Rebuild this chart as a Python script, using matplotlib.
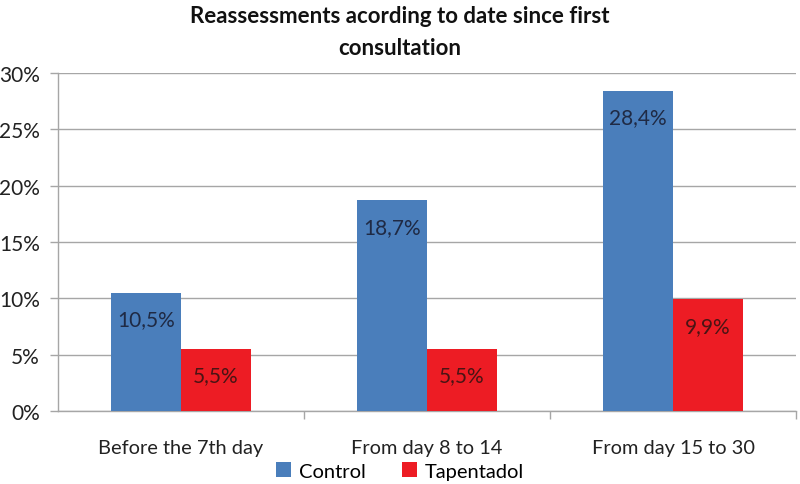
import matplotlib
matplotlib.use("Agg")
import matplotlib.pyplot as plt
import numpy as np
from matplotlib.ticker import FixedLocator

categories = ["Before the 7th day", "From day 8 to 14", "From day 15 to 30"]
control = [10.5, 18.7, 28.4]
tapentadol = [5.5, 5.5, 9.9]
control_labels = ["10,5%", "18,7%", "28,4%"]
tapentadol_labels = ["5,5%", "5,5%", "9,9%"]
yticks = [0, 5, 10, 15, 20, 25, 30]
ytick_labels = ["0%", "5%", "10%", "15%", "20%", "25%", "30%"]

plt.rcParams['font.family'] = ['Lato', 'DejaVu Sans']

fig = plt.figure(figsize=(8, 4.85), dpi=100)
ax = fig.add_axes([0.0725, 0.1505, 0.9225, 0.6969])

blue = "#4a7ebb"
red = "#ed1c24"
grid_c = "#a6a6a6"

x = np.arange(len(categories))
w = 0.285
b1 = ax.bar(x - w/2, control, w, color=blue, label="Control", zorder=3)
b2 = ax.bar(x + w/2, tapentadol, w, color=red, label="Tapentadol", zorder=3)

for rect, lab in zip(b1, control_labels):
    ax.annotate(lab, (rect.get_x() + rect.get_width()/2, rect.get_height()),
                xytext=(0, -19), textcoords="offset points", ha="center", va="center",
                fontsize=15, color="#1f2a44", zorder=4)
for rect, lab in zip(b2, tapentadol_labels):
    ax.annotate(lab, (rect.get_x() + rect.get_width()/2, rect.get_height()),
                xytext=(0, -19), textcoords="offset points", ha="center", va="center",
                fontsize=15, color="#4a1414", zorder=4)

ax.set_xlim(-0.5, len(categories) - 0.5)
ax.set_ylim(0, 30)
ax.set_yticks(yticks)
ax.set_yticklabels(ytick_labels, fontsize=15, color="#222222")
ax.yaxis.grid(True, color=grid_c, linewidth=1, zorder=0)
ax.set_axisbelow(True)

ax.set_xticks(x)
ax.set_xticklabels(categories, fontsize=14.4, color="#222222")
ax.tick_params(axis='x', which='major', length=0, pad=20)
ax.xaxis.set_minor_locator(FixedLocator([0.5, 1.5, 2.5]))
ax.tick_params(axis='x', which='minor', length=6, color=grid_c, width=1)
ax.tick_params(axis='y', length=6, color=grid_c, width=1, pad=7)

for s in ["top", "right"]:
    ax.spines[s].set_visible(False)
for s in ["left", "bottom"]:
    ax.spines[s].set_color(grid_c)
    ax.spines[s].set_linewidth(1)

fig.text(0.5, 0.988, "Reassessments acording to date since first\nconsultation",
         ha="center", va="top", fontsize=16, fontweight="bold", linespacing=1.65,
         color="#111111")

fig.legend(handles=[b1, b2], labels=["Control", "Tapentadol"], loc="center",
           bbox_to_anchor=(0.5, 0.027), ncol=2, frameon=False, fontsize=14.5,
           handlelength=0.75, handleheight=0.75, handletextpad=0.4, columnspacing=1.8,
           borderpad=0)

fig.savefig("out.png", dpi=100)
